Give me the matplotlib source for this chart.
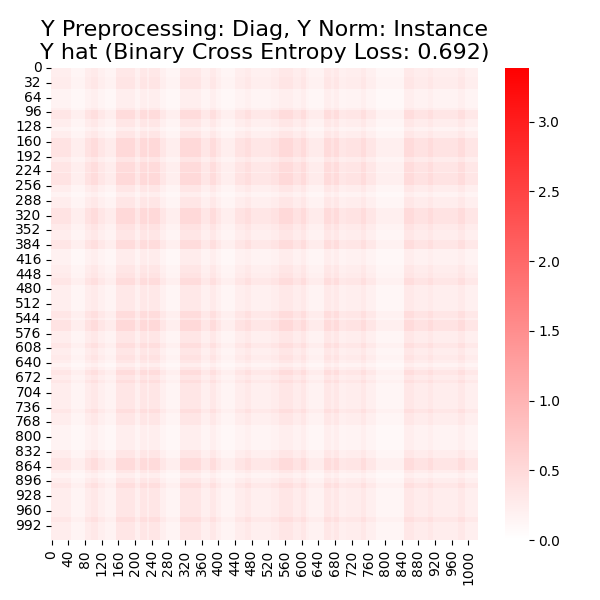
import numpy as np
import matplotlib
matplotlib.use("Agg")
from matplotlib import pyplot as plt
from matplotlib.colors import LinearSegmentedColormap
import seaborn as sns

N = 1024

# column profile: band edges and relative weights
col_edges = [0, 16, 48, 80, 96, 112, 128, 155, 200, 212, 230, 234, 260, 276, 308, 360,
             380, 396, 408, 440, 464, 480, 527, 547, 579, 599, 611, 619, 655, 671, 679,
             689, 707, 743, 755, 779, 847, 871, 903, 915, 975, 991, 1024]
col_levels = [0.95, 0.95, 0.6, 1.0, 1.2, 0.85, 0.65, 1.3, 0.85, 1.3, 0.9, 1.3, 0.85,
              0.6, 1.3, 0.85, 1.2, 0.85, 0.6, 0.95, 1.15, 0.85, 1.0, 1.3, 1.0, 1.25,
              0.85, 0.7, 1.25, 1.0, 1.25, 0.85, 0.95, 1.2, 0.85, 0.55, 1.25, 1.0, 1.2,
              0.95, 1.2, 0.85]

# row profile
row_edges = [0, 19, 45, 88, 92, 110, 128, 136, 153, 193, 204, 226, 229, 255, 269, 280,
             305, 338, 352, 374, 392, 428, 445, 455, 471, 528, 543, 546, 571, 597, 608,
             623, 633, 641, 648, 655, 666, 677, 684, 740, 749, 774, 828, 846, 872, 879,
             890, 901, 912, 973, 984, 1024]
row_levels = [0.8, 0.9, 0.6, 0.8, 1.2, 0.85, 0.6, 0.85, 1.3, 0.9, 1.25, 0.9, 1.3,
              0.85, 0.6, 0.85, 1.3, 1.0, 0.85, 1.2, 0.65, 0.85, 0.95, 1.2, 0.8, 1.2,
              0.9, 1.3, 0.85, 1.15, 0.85, 1.0, 0.85, 0.6, 0.85, 1.2, 0.9, 1.15, 0.85,
              1.15, 0.85, 0.6, 0.85, 1.25, 0.85, 0.6, 0.85, 1.15, 0.85, 1.15, 0.85]

scale = 0.3
vmax = 3.385
title = "Y Preprocessing: Diag, Y Norm: Instance\nY hat (Binary Cross Entropy Loss: 0.692)"

c = np.repeat(col_levels, np.diff(col_edges))
r = np.repeat(row_levels, np.diff(row_edges))
y_hat = scale * np.outer(r, c)

cmap = LinearSegmentedColormap.from_list("wr", ["white", "red"])

plt.figure(figsize=(6, 6), dpi=100)
ax = sns.heatmap(y_hat, cmap=cmap, vmin=0, vmax=vmax, xticklabels=40, yticklabels=32)
ax.set_title(title, fontsize=16)
plt.yticks(rotation=0)
plt.xticks(rotation=90)
plt.tight_layout()
plt.subplots_adjust(top=0.887)
plt.savefig("out.png", dpi=100)
